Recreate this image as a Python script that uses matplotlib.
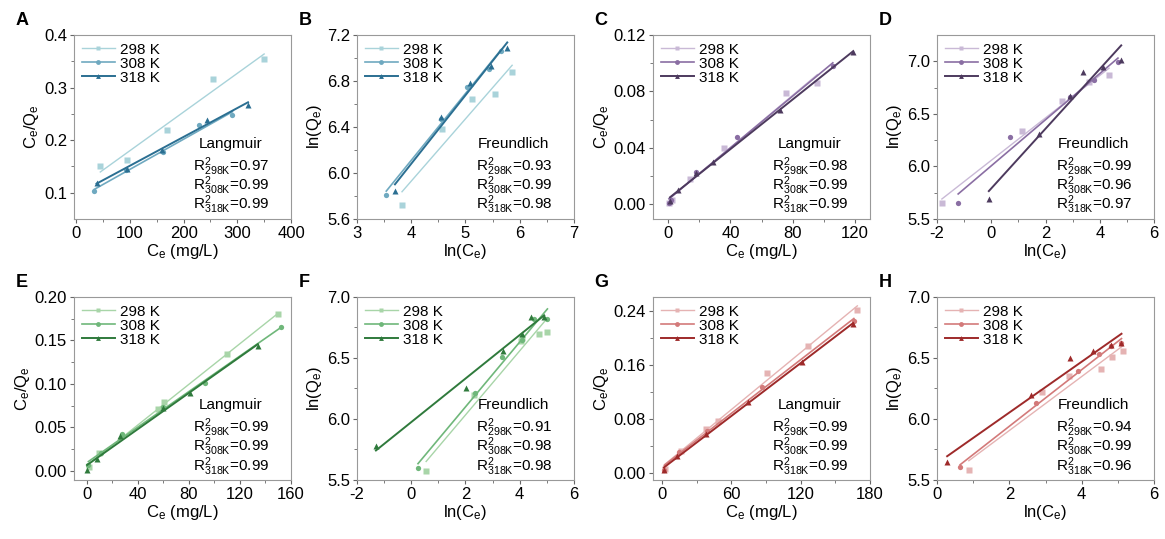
import matplotlib
matplotlib.use('Agg')
import matplotlib.pyplot as plt
import numpy as np

plt.rcParams['font.family'] = ['Liberation Sans', 'DejaVu Sans']
plt.rcParams['mathtext.fontset'] = 'custom'
plt.rcParams['mathtext.rm'] = 'Liberation Sans'
plt.rcParams['mathtext.it'] = 'Liberation Sans:italic'
plt.rcParams['axes.unicode_minus'] = False

temps = ['298 K', '308 K', '318 K']
markers = ['s', 'o', '^']

# colour sets per dye
blue = ['#a9d3da', '#6fa9c0', '#2b6f92']
purple = ['#c9b9d6', '#8a6ea3', '#4d3a5e']
green = ['#a8d5a8', '#6fb77a', '#2f7a3c']
red = ['#e5b3b3', '#d37a7a', '#9e2a2a']

# ---- A: Langmuir ----
a_x = [[45, 95, 169, 255, 350], [34, 93, 162, 229, 291], [38, 94, 160, 243, 320]]
a_y = [[0.151, 0.162, 0.219, 0.317, 0.355], [0.103, 0.143, 0.178, 0.228, 0.247],
       [0.118, 0.146, 0.181, 0.239, 0.267]]
a_r2 = ['0.97', '0.99', '0.99']

# ---- B: Freundlich ----
b_x = [[3.83, 4.57, 5.12, 5.54, 5.86], [3.54, 4.54, 5.03, 5.43, 5.66], [3.70, 4.55, 5.09, 5.47, 5.77]]
b_y = [[5.72, 6.38, 6.64, 6.69, 6.88], [5.81, 6.47, 6.75, 6.90, 7.06], [5.84, 6.49, 6.78, 6.93, 7.09]]
b_r2 = ['0.93', '0.99', '0.98']

# ---- C: Langmuir ----
c_x = [[0.5, 2.5, 14, 36, 76, 96], [0.3, 1.5, 18, 44, 106], [1, 6, 18, 29, 72, 119]]
c_y = [[0.001, 0.003, 0.018, 0.040, 0.079, 0.086], [0.0008, 0.003, 0.023, 0.048, 0.098],
       [0.002, 0.010, 0.022, 0.030, 0.067, 0.108]]
c_r2 = ['0.98', '0.99', '0.99']

# ---- D: Freundlich ----
d_x = [[-1.82, 1.12, 2.62, 3.60, 4.34], [-1.22, 0.68, 2.90, 3.78, 4.67],
       [-0.09, 1.75, 2.92, 3.38, 4.10, 4.79]]
d_y = [[5.65, 6.34, 6.62, 6.80, 6.87], [5.65, 6.28, 6.66, 6.82, 6.99],
       [5.69, 6.31, 6.67, 6.90, 6.95, 7.01]]
d_r2 = ['0.99', '0.96', '0.97']

# ---- E: Langmuir ----
e_x = [[1.7, 9.4, 56, 60.5, 110, 149.5], [1.3, 11, 28, 60, 93, 152], [0.3, 7.9, 26, 60, 81, 134]]
e_y = [[0.004, 0.020, 0.071, 0.079, 0.1345, 0.180], [0.0065, 0.021, 0.042, 0.074, 0.101, 0.165],
       [0.001, 0.014, 0.040, 0.072, 0.089, 0.144]]
e_r2 = ['0.99', '0.99', '0.99']

# ---- F: Freundlich ----
f_x = [[0.55, 2.30, 4.03, 4.10, 4.70, 5.00], [0.25, 2.35, 3.33, 4.10, 4.53, 5.02],
       [-1.30, 2.02, 3.38, 4.10, 4.40, 4.90]]
f_y = [[5.57, 6.20, 6.64, 6.66, 6.70, 6.71], [5.60, 6.21, 6.51, 6.65, 6.82, 6.82],
       [5.78, 6.25, 6.56, 6.70, 6.84, 6.84]]
f_r2 = ['0.91', '0.98', '0.98']

# ---- G: Langmuir ----
g_x = [[2.4, 16, 38, 48, 91, 126, 169], [1.8, 14.6, 39, 86, 166], [1.5, 13, 38, 74, 121.5, 165]]
g_y = [[0.006, 0.033, 0.065, 0.078, 0.149, 0.188, 0.241], [0.005, 0.032, 0.063, 0.128, 0.226],
       [0.0045, 0.025, 0.058, 0.106, 0.164, 0.221]]
g_r2 = ['0.99', '0.99', '0.99']

# ---- H: Freundlich ----
h_x = [[0.88, 2.90, 3.66, 4.52, 4.84, 5.13], [0.64, 2.74, 3.89, 4.48, 4.80, 5.10],
       [0.28, 2.59, 3.67, 4.31, 4.80, 5.10]]
h_y = [[5.58, 6.22, 6.35, 6.41, 6.51, 6.56], [5.61, 6.13, 6.39, 6.53, 6.60, 6.62],
       [5.65, 6.20, 6.50, 6.56, 6.61, 6.62]]
h_r2 = ['0.94', '0.99', '0.96']

panels = [
    ('A', a_x, a_y, a_r2, blue, 'Langmuir', (-4, 400), (0.05, 0.4), [0, 100, 200, 300, 400], [0.1, 0.2, 0.3, 0.4], '%.1f'),
    ('B', b_x, b_y, b_r2, blue, 'Freundlich', (3, 7), (5.6, 7.2), [3, 4, 5, 6, 7], [5.6, 6.0, 6.4, 6.8, 7.2], '%.1f'),
    ('C', c_x, c_y, c_r2, purple, 'Langmuir', (-10, 130), (-0.0105, 0.12), [0, 40, 80, 120], [0.0, 0.04, 0.08, 0.12], '%.2f'),
    ('D', d_x, d_y, d_r2, purple, 'Freundlich', (-2, 6), (5.5, 7.25), [-2, 0, 2, 4, 6], [5.5, 6.0, 6.5, 7.0], '%.1f'),
    ('E', e_x, e_y, e_r2, green, 'Langmuir', (-10, 160), (-0.0105, 0.2), [0, 40, 80, 120, 160], [0.0, 0.05, 0.10, 0.15, 0.20], '%.2f'),
    ('F', f_x, f_y, f_r2, green, 'Freundlich', (-2, 6), (5.5, 7.0), [-2, 0, 2, 4, 6], [5.5, 6.0, 6.5, 7.0], '%.1f'),
    ('G', g_x, g_y, g_r2, red, 'Langmuir', (-8, 180), (-0.01, 0.261), [0, 60, 120, 180], [0.0, 0.08, 0.16, 0.24], '%.2f'),
    ('H', h_x, h_y, h_r2, red, 'Freundlich', (0, 6), (5.5, 7.0), [0, 2, 4, 6], [5.5, 6.0, 6.5, 7.0], '%.1f'),
]

lefts = [0.0635, 0.3064, 0.5605, 0.8043]
fig = plt.figure(figsize=(11.65, 5.39), dpi=100)

for i, (letter, xs, ys, r2, cols, model, xlim, ylim, xt, yt, yfmt) in enumerate(panels):
    row, col = divmod(i, 4)
    bottom = 0.5937 if row == 0 else 0.1095
    height = 0.3414 if row == 0 else 0.3395
    ax = fig.add_axes([lefts[col], bottom, 0.1863, height])

    for j in range(3):
        x = np.array(xs[j])
        y = np.array(ys[j])
        lw = [1.0, 1.2, 1.4][j]
        ax.plot(x, y, linestyle='none', marker=markers[j], ms=3.8, color=cols[j], mec='none')
        k, b = np.polyfit(x, y, 1)
        xl = np.array([x.min(), x.max()])
        ax.plot(xl, k * xl + b, color=cols[j], lw=lw)
        # legend proxy
        ax.plot([], [], color=cols[j], lw=lw, marker=markers[j], ms=3.5, mec='none', label=temps[j])

    ax.set_xlim(*xlim)
    ax.set_ylim(*ylim)
    ax.set_xticks(xt)
    ax.set_yticks(yt)
    ax.set_xticks([(xt[n] + xt[n + 1]) / 2 for n in range(len(xt) - 1)], minor=True)
    ax.set_yticks([(yt[n] + yt[n + 1]) / 2 for n in range(len(yt) - 1)], minor=True)
    ax.yaxis.set_major_formatter(matplotlib.ticker.FormatStrFormatter(yfmt))
    ax.tick_params(which='major', direction='out', length=3, width=0.8, labelsize=12, color='#666666', pad=2)
    ax.tick_params(which='minor', direction='out', length=2, width=0.6, color='#666666')
    for s in ax.spines.values():
        s.set_color('#999999')
        s.set_linewidth(0.8)

    if model == 'Langmuir':
        ax.set_xlabel(r'C$_\mathregular{e}$ (mg/L)', fontsize=12, labelpad=1)
        ax.set_ylabel(r'C$_\mathregular{e}$/Q$_\mathregular{e}$', fontsize=12, labelpad=2)
    else:
        ax.set_xlabel(r'ln(C$_\mathregular{e}$)', fontsize=12, labelpad=1)
        ax.set_ylabel(r'ln(Q$_\mathregular{e}$)', fontsize=12, labelpad=2)

    ax.legend(loc='upper left', frameon=False, fontsize=11, labelspacing=0.0,
              handlelength=2.2, handletextpad=0.3, borderaxespad=0.3, borderpad=0.2)

    ax.text(0.72, 0.41, model, transform=ax.transAxes, fontsize=11, ha='center', va='center')
    r2_lines = [r'R$^2_{\mathregular{%s}}$=%s' % (t, r2[j]) for j, t in enumerate(['298K', '308K', '318K'])]
    ax.text(0.55, 0.18, '\n'.join(r2_lines), transform=ax.transAxes, fontsize=11,
            ha='left', va='center', linespacing=0.78)

    ax.text(-0.27, 1.03, letter, transform=ax.transAxes, fontsize=13, fontweight='bold',
            ha='left', va='bottom')

fig.savefig('out.png', dpi=100)
